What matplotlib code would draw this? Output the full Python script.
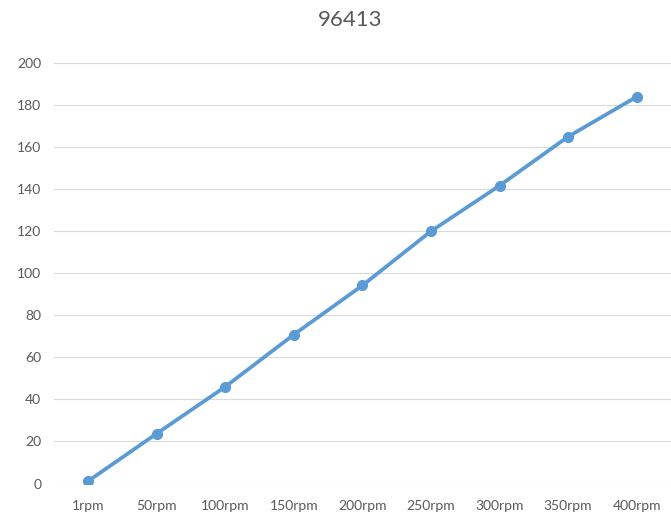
import matplotlib
matplotlib.use("Agg")
import matplotlib.pyplot as plt

categories = ["1rpm", "50rpm", "100rpm", "150rpm", "200rpm", "250rpm", "300rpm", "350rpm", "400rpm"]
values = [1.1, 23.7, 46.0, 70.8, 94.2, 120.0, 141.7, 165.0, 184.0]
yticks = [0, 20, 40, 60, 80, 100, 120, 140, 160, 180, 200]
title = "96413"

plt.rcParams['font.family'] = ['Lato', 'DejaVu Sans']
gray = "#595959"

fig = plt.figure(figsize=(6.71, 5.18), dpi=100)
ax = fig.add_axes([0.080, 0.0666, 0.920, 0.8116])
x = list(range(len(categories)))
ax.plot(x, values, color="#5B9BD5", linewidth=2.7, marker="o", markersize=7,
        solid_capstyle="round", zorder=3)
ax.set_xlim(-0.5, len(categories) - 0.5)
ax.set_ylim(0, 200)
ax.set_yticks(yticks)
ax.set_xticks(x)
ax.set_xticklabels(categories)
ax.grid(axis="y", color="#D9D9D9", linewidth=0.8)
ax.set_axisbelow(True)
for s in ax.spines.values():
    s.set_visible(False)
ax.tick_params(axis="both", length=0, colors=gray, labelsize=10)
ax.tick_params(axis="y", pad=9)
ax.tick_params(axis="x", pad=12)
fig.text(0.522, 0.962, title, ha="center", va="center", fontsize=16, color=gray)
fig.savefig("out.png", dpi=100)
